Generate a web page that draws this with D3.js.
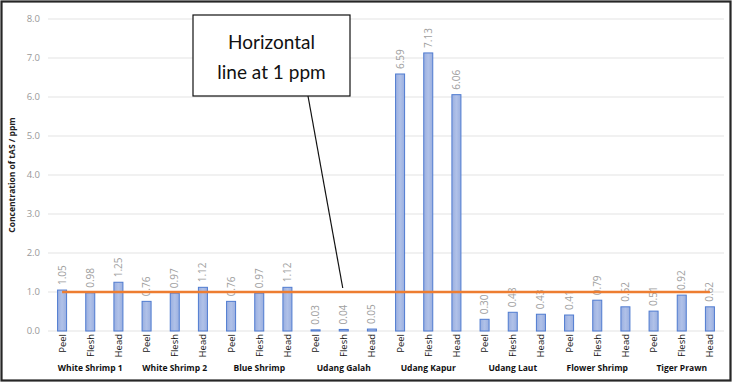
<!DOCTYPE html>
<html>
<head>
<meta charset="utf-8">
<script src="https://cdn.jsdelivr.net/npm/d3@7"></script>
<style>
  body { margin: 0; background: #fff; }
  svg { display: block; font-family: "Open Sans", "Noto Sans", sans-serif; }
</style>
</head>
<body>
<div id="chart"></div>
<script>
let w = 733;
let h = 384;

// data
let groups = ["White Shrimp 1", "White Shrimp 2", "Blue Shrimp", "Udang Galah",
  "Udang Kapur", "Udang Laut", "Flower Shrimp", "Tiger Prawn"];
let parts = ["Peel", "Flesh", "Head"];
let values = [
  1.05, 0.98, 1.25,
  0.76, 0.97, 1.12,
  0.76, 0.97, 1.12,
  0.03, 0.04, 0.05,
  6.59, 7.13, 6.06,
  0.30, 0.48, 0.43,
  0.41, 0.79, 0.62,
  0.51, 0.92, 0.62
];
let limit = 1; // horizontal line at 1 ppm
let yTicks = [0, 1, 2, 3, 4, 5, 6, 7, 8];

let data = [];
groups.forEach(function(g, gi){
  parts.forEach(function(p, pi){
    data.push({group: g, part: p, key: g + "|" + p, value: values[gi * 3 + pi]});
  });
});

let plotL = 48, plotR = 724, plotT = 19, plotB = 331;

let svg = d3.select("#chart").append("svg")
  .attr("width", w)
  .attr("height", h);

// outer frame
svg.append("rect")
  .attr("x", 1.5).attr("y", 1.5)
  .attr("width", w - 4).attr("height", h - 5)
  .attr("fill", "none")
  .attr("stroke", "#262626")
  .attr("stroke-width", 2.2);

let xScale = d3.scaleBand()
  .domain(data.map(d => d.key))
  .range([plotL, plotR])
  .paddingInner(0.68)
  .paddingOuter(0.34);

let yScale = d3.scaleLinear().domain([0, 8]).range([plotB, plotT]);

// gridlines
svg.selectAll(".grid").data(yTicks).enter()
  .append("line")
  .attr("class", "grid")
  .attr("x1", plotL).attr("x2", plotR)
  .attr("y1", d => yScale(d)).attr("y2", d => yScale(d))
  .attr("stroke", "#e3e3e3")
  .attr("stroke-width", 1);

// y tick labels
svg.selectAll(".ytick").data(yTicks).enter()
  .append("text")
  .attr("class", "ytick")
  .attr("x", 40)
  .attr("y", d => yScale(d))
  .attr("dy", "0.35em")
  .attr("text-anchor", "end")
  .attr("font-size", 9.5)
  .attr("fill", "#999")
  .text(d => d.toFixed(1));

// y title
svg.append("text")
  .attr("transform", "translate(15," + ((plotT + plotB) / 2) + ") rotate(-90)")
  .attr("text-anchor", "middle")
  .attr("font-size", 8.5)
  .attr("font-weight", "bold")
  .attr("fill", "#222")
  .text("Concentration of tAS / ppm");

// gradient for bars
let grad = svg.append("defs").append("linearGradient")
  .attr("id", "barFill")
  .attr("x1", 0).attr("x2", 1).attr("y1", 0).attr("y2", 0);
grad.append("stop").attr("offset", "0%").attr("stop-color", "#9aafe0");
grad.append("stop").attr("offset", "50%").attr("stop-color", "#b0c1e8");
grad.append("stop").attr("offset", "100%").attr("stop-color", "#9aafe0");

// bars
svg.selectAll(".bar").data(data).enter()
  .append("rect")
  .attr("class", "bar")
  .attr("x", d => xScale(d.key))
  .attr("width", xScale.bandwidth())
  .attr("y", d => yScale(d.value))
  .attr("height", d => yScale(0) - yScale(d.value))
  .attr("fill", "url(#barFill)")
  .attr("stroke", "#4f7bd0")
  .attr("stroke-width", 1);

// value labels
svg.selectAll(".vlabel").data(data).enter()
  .append("text")
  .attr("class", "vlabel")
  .attr("transform", d => "translate(" + (xScale(d.key) + xScale.bandwidth() / 2 + 3.5) + "," + (yScale(d.value) - 5) + ") rotate(-90)")
  .attr("font-size", 10)
  .attr("fill", "#a0a0a0")
  .text(d => d.value.toFixed(2));

// part labels
svg.selectAll(".plabel").data(data).enter()
  .append("text")
  .attr("class", "plabel")
  .attr("transform", d => "translate(" + (xScale(d.key) + xScale.bandwidth() / 2 + 3.5) + "," + (plotB + 3) + ") rotate(-90)")
  .attr("text-anchor", "end")
  .attr("font-size", 9.5)
  .attr("fill", "#111")
  .text(d => d.part);

// group labels
svg.selectAll(".glabel").data(groups).enter()
  .append("text")
  .attr("class", "glabel")
  .attr("x", g => xScale(g + "|Flesh") + xScale.bandwidth() / 2)
  .attr("y", 371)
  .attr("text-anchor", "middle")
  .attr("font-size", 8.5)
  .attr("font-weight", "bold")
  .attr("fill", "#111")
  .text(g => g);

// 1 ppm line series
let lineGen = d3.line()
  .x(d => xScale(d.key) + xScale.bandwidth() / 2)
  .y(d => yScale(limit));
svg.append("path")
  .datum(data)
  .attr("d", lineGen)
  .attr("fill", "none")
  .attr("stroke", "#ed7d31")
  .attr("stroke-width", 2.5);

// annotation callout
let box = {x: 193, y: 15, w: 157, h: 81};
let target = data.find(d => d.group == "Udang Galah" && d.part == "Flesh");
svg.append("line")
  .attr("x1", 308).attr("y1", box.y + box.h)
  .attr("x2", xScale(target.key) + xScale.bandwidth() / 2 - 1)
  .attr("y2", yScale(limit) - 4)
  .attr("stroke", "#111")
  .attr("stroke-width", 1.2);
svg.append("rect")
  .attr("x", box.x).attr("y", box.y)
  .attr("width", box.w).attr("height", box.h)
  .attr("fill", "#fff")
  .attr("stroke", "#111")
  .attr("stroke-width", 1.2);
svg.append("text")
  .attr("x", box.x + box.w / 2).attr("y", 49)
  .attr("text-anchor", "middle")
  .attr("font-size", 19)
  .attr("font-family", "Lato, sans-serif")
  .attr("fill", "#111")
  .text("Horizontal");
svg.append("text")
  .attr("x", box.x + box.w / 2).attr("y", 79)
  .attr("text-anchor", "middle")
  .attr("font-size", 19)
  .attr("font-family", "Lato, sans-serif")
  .attr("fill", "#111")
  .text("line at 1 ppm");
</script>
</body>
</html>
